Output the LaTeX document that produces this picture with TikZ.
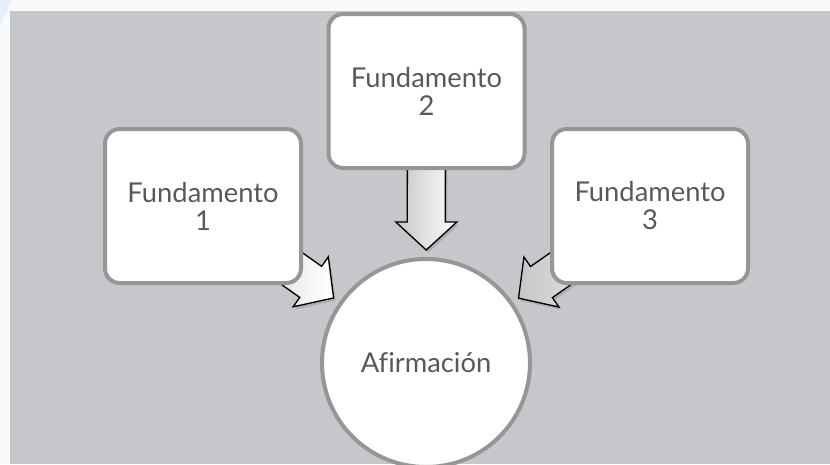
\documentclass[tikz,border=0pt]{standalone}
\usepackage{fontspec}
\setmainfont{Lato}[Ligatures=NoCommon]
\usetikzlibrary{calc,shadows}

\definecolor{slidegray}{RGB}{198,199,203}
\definecolor{rimgray}{RGB}{150,150,150}
\definecolor{inkgray}{RGB}{89,89,89}
\definecolor{paleblue}{RGB}{228,240,250}

\pgfdeclarelayer{back}
\pgfdeclarelayer{arrowlayer}
\pgfsetlayers{back,arrowlayer,main}

% block arrow from #1 (tail) to #2 (tip)
\newcommand{\fatarrow}[2]{%
  \coordinate (neck) at ($(#2)!21pt!(#1)$);
  \filldraw[fat] ($(#1)!14.25pt!90:(#2)$) -- ($(neck)!14.25pt!90:(#2)$)
    -- ($(neck)!22.9pt!90:(#2)$) -- (#2) -- ($(neck)!22.9pt!-90:(#2)$)
    -- ($(neck)!14.25pt!-90:(#2)$) -- ($(#1)!14.25pt!-90:(#2)$) -- cycle;
}

\begin{document}
\begin{tikzpicture}[
  x=0.75pt, y=-0.75pt,
  every node/.style={text=inkgray, font=\fontsize{20.5}{21}\selectfont, align=center},
  box/.style={draw=rimgray, fill=white, line width=3pt, rounded corners=11pt,
    minimum width=147pt, minimum height=115.5pt},
  claimnode/.style={draw=rimgray, fill=white, line width=3pt, circle, minimum size=156pt},
  fat/.style={draw=black, line width=1pt, line join=miter, left color=gray!45, right color=white,
    drop shadow={opacity=0.35, shadow xshift=1.5pt, shadow yshift=-2pt}}
  ]
  \useasboundingbox (0,0) rectangle (830,464);
  \clip (0,0) rectangle (830,464);

  \node[box] (b1) at (203,206) {Fundamento\\1};
  \node[box] (b2) at (426.5,91) {Fundamento\\2};
  \node[box] (b3) at (650,206) {Fundamento\\3};
  \node[claimnode] (claim) at (426,363) {Afirmación};

  \coordinate (p1) at ($(claim.center)!84.75pt!(b1.center)$);
  \coordinate (p2) at ($(claim.center)!84.75pt!(b2.center)$);
  \coordinate (p3) at ($(claim.center)!84.75pt!(b3.center)$);

  \begin{pgfonlayer}{arrowlayer}
    \fatarrow{b1.center}{p1}
    \fatarrow{b2.center}{p2}
    \fatarrow{b3.center}{p3}
  \end{pgfonlayer}

  \begin{pgfonlayer}{back}
    \fill[white!98!black] (0,0) rectangle (830,464);
    \fill[paleblue] (0,0) -- (12,0) -- (0,26) -- cycle;
    \fill[slidegray] (10,11) rectangle (830,464);
  \end{pgfonlayer}
\end{tikzpicture}
\end{document}
